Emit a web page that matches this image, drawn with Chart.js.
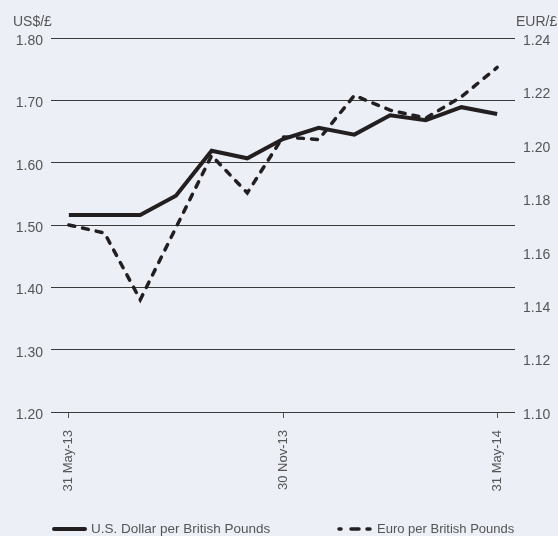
<!DOCTYPE html>
<html>
<head>
<meta charset="utf-8">
<script src="https://cdn.jsdelivr.net/npm/chart.js@4/dist/chart.umd.min.js"></script>
<style>
  html, body { margin: 0; padding: 0; background: #eceff6; }
  #wrap { width: 558px; height: 536px; }
</style>
</head>
<body>
<div id="wrap"><canvas id="myChart" width="558" height="536"></canvas></div>
<script>
// month-end dates, May 2013 to May 2014
var dates = ["31 May-13", "30 Jun-13", "31 Jul-13", "31 Aug-13", "30 Sep-13", "31 Oct-13",
  "30 Nov-13", "31 Dec-13", "31 Jan-14", "28 Feb-14", "31 Mar-14", "30 Apr-14", "31 May-14"];
var shownTicks = ["31 May-13", "30 Nov-13", "31 May-14"];

var usdPerGbp = [1.516, 1.516, 1.516, 1.547, 1.619, 1.607, 1.638, 1.656, 1.645, 1.676, 1.668, 1.689, 1.678];
var eurPerGbp = [1.170, 1.167, 1.142, 1.169, 1.196, 1.182, 1.203, 1.202, 1.2185, 1.213, 1.210, 1.218, 1.229];

var textColor = "#555555";
var lineColor = "#231f20";
var fontFamily = "'Liberation Sans', Arial, sans-serif";

var extras = {
  id: "extras",
  afterDraw: function (chart) {
    var c = chart.ctx;
    c.save();
    c.fillStyle = textColor;
    c.font = "14px " + fontFamily;
    c.textBaseline = "middle";
    c.textAlign = "left";
    c.fillText("US$/£", 13, 22);
    c.fillText("EUR/£", 516, 22);

    // legend
    c.strokeStyle = lineColor;
    c.lineCap = "round";
    c.lineWidth = 4;
    c.beginPath();
    c.moveTo(54, 529);
    c.lineTo(85, 529);
    c.stroke();
    c.lineWidth = 3.5;
    [[339, 341], [351, 359], [367, 370]].forEach(function (s) {
      c.beginPath();
      c.moveTo(s[0], 529);
      c.lineTo(s[1], 529);
      c.stroke();
    });
    c.font = "13.5px " + fontFamily;
    c.fillText("U.S. Dollar per British Pounds", 91, 529);
    c.font = "13px " + fontFamily;
    c.fillText("Euro per British Pounds", 377, 529);
    c.restore();
  }
};

var ctx = document.getElementById("myChart");

var myChart = new Chart(ctx, {
  type: "line",
  data: {
    labels: dates,
    datasets: [
      {
        label: "U.S. Dollar per British Pounds",
        data: usdPerGbp,
        yAxisID: "y",
        borderColor: lineColor,
        borderWidth: 4,
        pointRadius: 0,
        tension: 0,
      },
      {
        label: "Euro per British Pounds",
        data: eurPerGbp,
        yAxisID: "y2",
        borderColor: lineColor,
        borderWidth: 3.5,
        borderDash: [6, 8],
        borderCapStyle: "round",
        pointRadius: 0,
        tension: 0,
      },
    ],
  },
  options: {
    responsive: false,
    animation: false,
    layout: { padding: { top: 38, bottom: 40, left: 0, right: 0 } },
    plugins: {
      legend: { display: false },
      tooltip: { enabled: false },
    },
    scales: {
      x: {
        type: "category",
        offset: true,
        border: { display: false },
        grid: {
          drawOnChartArea: false,
          drawTicks: true,
          tickLength: 6,
          tickWidth: 1,
          tickColor: function (c) {
            return shownTicks.indexOf(dates[c.index]) >= 0 ? "#555" : "transparent";
          },
        },
        ticks: {
          autoSkip: false,
          maxRotation: 90,
          minRotation: 90,
          padding: 12,
          color: textColor,
          font: { family: fontFamily, size: 13 },
          callback: function (v, i) {
            return shownTicks.indexOf(dates[i]) >= 0 ? dates[i] : "";
          },
        },
        afterFit: function (s) { s.height = 84; },
      },
      y: {
        position: "left",
        min: 1.2,
        max: 1.8,
        border: { display: false },
        grid: { color: "#3a3a3a", lineWidth: 1, drawTicks: false },
        ticks: {
          stepSize: 0.1,
          padding: 8,
          labelOffset: 3,
          color: textColor,
          font: { family: fontFamily, size: 14 },
          callback: function (v) { return v.toFixed(2); },
        },
        afterFit: function (s) { s.width = 51; },
      },
      y2: {
        position: "right",
        min: 1.10,
        max: 1.24,
        border: { display: false },
        grid: { drawOnChartArea: false, drawTicks: false },
        ticks: {
          stepSize: 0.02,
          padding: 8,
          labelOffset: 3,
          color: textColor,
          font: { family: fontFamily, size: 14 },
          callback: function (v) { return v.toFixed(2); },
        },
        afterFit: function (s) { s.width = 43; },
      },
    },
  },
  plugins: [extras],
});
</script>
</body>
</html>
